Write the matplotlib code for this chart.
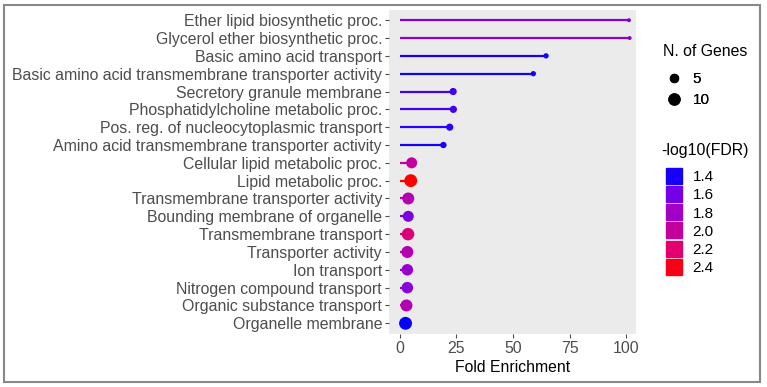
import matplotlib.pyplot as plt
import matplotlib.colors as mcolors
from matplotlib.lines import Line2D
from matplotlib.patches import Rectangle

plt.rcParams['font.family'] = ['Liberation Sans', 'DejaVu Sans']

terms = ["Ether lipid biosynthetic proc.", "Glycerol ether biosynthetic proc.",
         "Basic amino acid transport", "Basic amino acid transmembrane transporter activity",
         "Secretory granule membrane", "Phosphatidylcholine metabolic proc.",
         "Pos. reg. of nucleocytoplasmic transport", "Amino acid transmembrane transporter activity",
         "Cellular lipid metabolic proc.", "Lipid metabolic proc.",
         "Transmembrane transporter activity", "Bounding membrane of organelle",
         "Transmembrane transport", "Transporter activity", "Ion transport",
         "Nitrogen compound transport", "Organic substance transport", "Organelle membrane"]
fold = [101.2, 101.5, 64.6, 59.0, 23.6, 23.7, 22.1, 19.3, 5.3, 4.9,
        3.8, 3.8, 3.7, 3.4, 3.4, 3.4, 3.0, 2.6]
genes = [1, 1, 2, 2, 4, 4, 4, 3, 10, 14, 12, 10, 13, 12, 11, 11, 12, 14]
fdr = [1.65, 1.7, 1.4, 1.4, 1.5, 1.5, 1.45, 1.4, 2.0, 2.45,
       1.9, 1.65, 2.15, 1.9, 1.75, 1.7, 1.9, 1.37]
size_breaks = [5, 10]
fdr_breaks = [1.4, 1.6, 1.8, 2.0, 2.2, 2.4]

vmin, vmax = 1.35, 2.45
nodes = [(1.35, '#0000ff'), (1.6, '#7300e6'), (1.8, '#a200c6'),
         (2.0, '#c4009c'), (2.2, '#e2006c'), (2.45, '#ff0000')]
cmap = mcolors.LinearSegmentedColormap.from_list(
    'fdr', [((v - vmin) / (vmax - vmin), c) for v, c in nodes])
norm = mcolors.Normalize(vmin, vmax)


def dot_pt(n):
    # point diameter (pt), linear in sqrt(n) like an area scale
    return (0.7 + 3.26 * n ** 0.5) * 0.72


W, H = 767, 387
fig = plt.figure(figsize=(W / 100, H / 100), dpi=100)
ax = fig.add_axes([389 / W, (H - 334) / H, 247 / W, 324.5 / H])
ax.set_facecolor('#ebebeb')

y = list(range(len(terms)))[::-1]
cols = [cmap(norm(v)) for v in fdr]
ax.hlines(y, 0, fold, colors=cols, lw=1.6)
ax.scatter(fold, y, s=[dot_pt(g) ** 2 for g in genes], c=cols, zorder=3, edgecolors='none')

ax.set_yticks(y)
ax.set_yticklabels(terms)
ax.set_ylim(-0.6, len(terms) - 0.4)
ax.set_xlim(-4.7, 104.3)
ax.set_xticks([0, 25, 50, 75, 100])
ax.tick_params(axis='both', labelsize=11.4, labelcolor='#4d4d4d', color='#4d4d4d',
               length=3, width=0.8, pad=2)
ax.set_xlabel('Fold Enrichment', fontsize=11.3, labelpad=3)
for s in ax.spines.values():
    s.set_visible(False)

# legends (titles drawn as separate text)
fig.text(663 / W, 1 - 51 / H, 'N. of Genes', fontsize=11.4, va='center', ha='left')
h1 = [Line2D([], [], ls='none', marker='o', color='black',
             markersize=dot_pt(g)) for g in size_breaks]
leg1 = fig.legend(h1, [str(b) for b in size_breaks],
                  loc='upper left', bbox_to_anchor=(665 / W, 1 - 72 / H),
                  frameon=False, fontsize=11, borderaxespad=0, borderpad=0,
                  handlelength=1.2, handletextpad=0.6, labelspacing=0.45)

fig.text(661 / W, 1 - 151 / H, '-log10(FDR)', fontsize=11.4, va='center', ha='left')
h2 = [Line2D([], [], ls='none', marker='s', color=cmap(norm(b)),
             markersize=11.5) for b in fdr_breaks]
leg2 = fig.legend(h2, [f'{b:.1f}' for b in fdr_breaks],
                  loc='upper left', bbox_to_anchor=(665 / W, 1 - 170 / H),
                  frameon=False, fontsize=11, borderaxespad=0, borderpad=0,
                  handlelength=1.2, handletextpad=0.6, labelspacing=0.28)
fig.add_artist(leg1)

fig.patches.append(Rectangle((4 / W, 5 / H), 756 / W, 377 / H, transform=fig.transFigure,
                             fill=False, edgecolor='#888888', lw=1.5))

fig.savefig('out.png', dpi=100)
